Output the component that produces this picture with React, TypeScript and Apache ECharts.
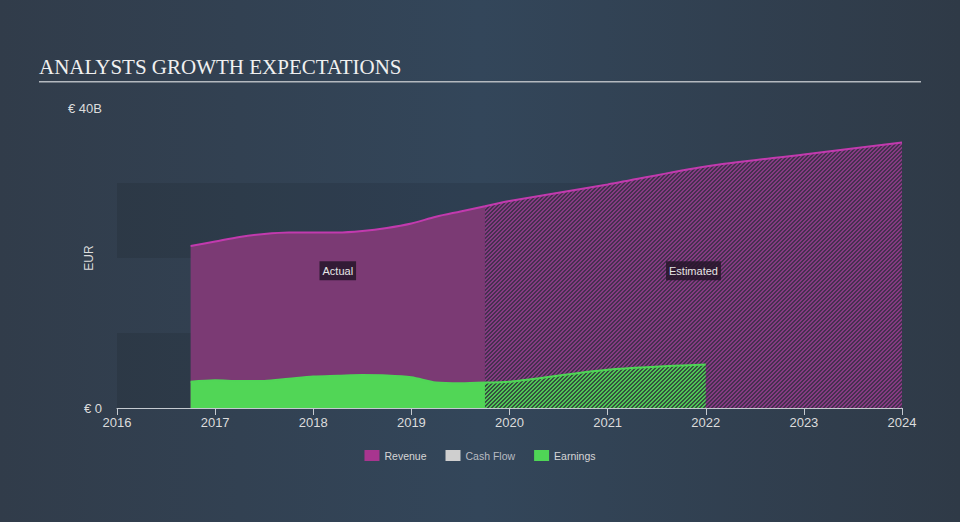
import React, { useEffect, useRef } from "react";
import * as echarts from "echarts";

// Quarterly actuals (decimal years)
const actualYears = [2016.75, 2017.0, 2017.25, 2017.5, 2017.75, 2018.0, 2018.25, 2018.5, 2018.75, 2019.0, 2019.25, 2019.5, 2019.75];
const revenueActual = [21.6, 22.2, 22.8, 23.2, 23.4, 23.4, 23.4, 23.6, 24.0, 24.6, 25.5, 26.2, 26.9];
const earningsActual = [3.5, 3.7, 3.6, 3.6, 3.9, 4.2, 4.3, 4.4, 4.35, 4.1, 3.4, 3.3, 3.4];

// Analyst estimates (start at last actual)
const revenueEstimateYears = [2019.75, 2020.0, 2021.0, 2022.0, 2023.0, 2024.0];
const revenueEstimate = [26.9, 27.6, 29.8, 32.2, 33.8, 35.4];
const earningsEstimateYears = [2019.75, 2020.0, 2021.0, 2022.0];
const earningsEstimate = [3.4, 3.5, 5.1, 5.8];

const yearTicks = [2016, 2017, 2018, 2019, 2020, 2021, 2022, 2023, 2024];
const legendNames = ["Revenue", "Cash Flow", "Earnings"];

const pair = (xs: number[], ys: number[]) => xs.map((x, i) => [x, ys[i]]);

function makeHatch(base: string, stripe: string, size = 4) {
  const c = document.createElement("canvas");
  c.width = size;
  c.height = size;
  const ctx = c.getContext("2d")!;
  ctx.fillStyle = base;
  ctx.fillRect(0, 0, size, size);
  ctx.fillStyle = stripe;
  for (let x = 0; x < size; x++) {
    for (let y = 0; y < size; y++) {
      if ((x + y) % size < size / 2) ctx.fillRect(x, y, 1, 1);
    }
  }
  return c;
}

const SANS = "Liberation Sans, Arial, sans-serif";

export default function App() {
  const ref = useRef<HTMLDivElement>(null);

  useEffect(() => {
    if (!ref.current) return;
    const chart = echarts.init(ref.current, undefined, { renderer: "svg" });

    const revHatch = makeHatch("#45304f", "#853a82");
    const earnHatch = makeHatch("#35503f", "#4fc655");

    const labelBox = {
      show: true,
      color: "#e6e6e6",
      fontSize: 11,
      fontFamily: SANS,
      backgroundColor: "rgba(38,22,42,0.85)",
      padding: [4, 3],
      position: "inside",
    };

    const smoothCfg = { smooth: 0.3 };

    chart.setOption({
      animation: false,
      backgroundColor: "transparent",
      title: {
        text: "ANALYSTS GROWTH EXPECTATIONS",
        left: 39,
        top: 56,
        padding: 0,
        textStyle: {
          fontFamily: '"Liberation Serif", "Times New Roman", serif',
          fontSize: 21,
          fontWeight: "normal",
          color: "#f0f0f0",
        },
      },
      graphic: [
        {
          type: "line",
          shape: { x1: 39, y1: 81.75, x2: 921, y2: 81.75 },
          style: { stroke: "#b4b9bf", lineWidth: 1.5 },
        },
      ],
      legend: {
        top: 445,
        left: "center",
        icon: "rect",
        itemWidth: 15,
        itemHeight: 11,
        itemGap: 19,
        itemStyle: { borderWidth: 0 },
        textStyle: { color: "#d6d6d6", fontSize: 10.5, fontFamily: SANS },
        data: legendNames.map((n) => (n === "Cash Flow" ? { name: n, textStyle: { color: "#b8bcc2" } } : { name: n })),
      },
      grid: { left: 117, right: 58, top: 108, bottom: 114 },
      xAxis: {
        type: "value",
        min: yearTicks[0],
        max: yearTicks[yearTicks.length - 1],
        interval: 1,
        axisLine: { show: true, lineStyle: { color: "#c5cad0", width: 1 } },
        axisTick: { show: true, length: 7, lineStyle: { color: "#c5cad0" } },
        axisLabel: {
          color: "#dcdcdc",
          fontSize: 13,
          margin: 8,
          fontFamily: SANS,
          formatter: (v: number) => String(v),
        },
        splitLine: { show: false },
      },
      yAxis: {
        type: "value",
        min: 0,
        max: 40,
        interval: 10,
        name: "EUR",
        nameLocation: "middle",
        nameRotate: 90,
        nameGap: 22,
        nameMoveOverlap: false,
        nameTextStyle: { color: "#dcdcdc", fontSize: 12, fontFamily: SANS },
        axisLine: { show: false },
        axisTick: { show: false },
        splitLine: { show: false },
        splitArea: { show: true, areaStyle: { color: ["rgba(0,0,0,0.09)", "rgba(0,0,0,0)"] } },
        axisLabel: {
          color: "#dcdcdc",
          fontSize: 13,
          margin: 15,
          fontFamily: SANS,
          formatter: (v: number) => (v === 0 ? "€ 0" : v === 40 ? "€ 40B" : ""),
        },
      },
      series: [
        {
          name: "Revenue",
          type: "line",
          ...smoothCfg,
          symbol: "none",
          data: pair(actualYears, revenueActual),
          itemStyle: { color: "#a8358f" },
          lineStyle: { color: "#c23aae", width: 2 },
          areaStyle: { color: "#7b3a74", opacity: 1 },
          z: 2,
          markPoint: {
            symbol: "rect",
            symbolSize: 0,
            label: { ...labelBox, formatter: "Actual" },
            data: [{ coord: [2018.25, 18.3], value: "Actual" }],
          },
        },
        {
          name: "Revenue",
          type: "line",
          ...smoothCfg,
          symbol: "none",
          data: pair(revenueEstimateYears, revenueEstimate),
          itemStyle: { color: "#a8358f" },
          lineStyle: { color: "#c23aae", width: 2 },
          areaStyle: { color: { image: revHatch, repeat: "repeat" }, opacity: 1 },
          z: 2,
          markPoint: {
            symbol: "rect",
            symbolSize: 0,
            label: { ...labelBox, formatter: "Estimated" },
            data: [{ coord: [2021.875, 18.3], value: "Estimated" }],
          },
        },
        {
          name: "Cash Flow",
          type: "line",
          data: [],
          itemStyle: { color: "#cfcfcf" },
        },
        {
          name: "Earnings",
          type: "line",
          ...smoothCfg,
          symbol: "none",
          data: pair(actualYears, earningsActual),
          itemStyle: { color: "#4fd656" },
          lineStyle: { color: "#4fd656", width: 2 },
          areaStyle: { color: "#51d656", opacity: 1 },
          z: 3,
        },
        {
          name: "Earnings",
          type: "line",
          ...smoothCfg,
          symbol: "none",
          data: pair(earningsEstimateYears, earningsEstimate),
          itemStyle: { color: "#4fd656" },
          lineStyle: { color: "#4fd656", width: 2 },
          areaStyle: { color: { image: earnHatch, repeat: "repeat" }, opacity: 1 },
          z: 3,
        },
      ],
    });

    return () => chart.dispose();
  }, []);

  return (
    <div
      style={{
        position: "fixed",
        left: 0,
        top: 0,
        width: 960,
        height: 522,
        background: "linear-gradient(90deg, #313c4a 0%, #33465a 50%, #2f3a47 100%)",
      }}
    >
      <div ref={ref} style={{ width: 960, height: 522 }} />
    </div>
  );
}
